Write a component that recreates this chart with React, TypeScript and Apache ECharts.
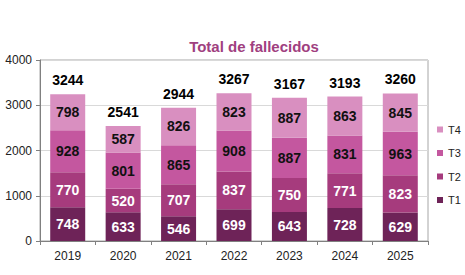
import React, { useEffect, useRef } from "react";
import * as echarts from "echarts";

const years = ["2019", "2020", "2021", "2022", "2023", "2024", "2025"];
const t1 = [748, 633, 546, 699, 643, 728, 629];
const t2 = [770, 520, 707, 837, 750, 771, 823];
const t3 = [928, 801, 865, 908, 887, 831, 963];
const t4 = [798, 587, 826, 823, 887, 863, 845];
const totals = [3244, 2541, 2944, 3267, 3167, 3193, 3260];

const colors = { T1: "#6e2358", T2: "#a63b7d", T3: "#c4579f", T4: "#d98fc0" };

export default function App() {
  const ref = useRef<HTMLDivElement>(null);
  useEffect(() => {
    if (!ref.current) return;
    const chart = echarts.init(ref.current, undefined, { renderer: "svg" });
    const font = "'Liberation Sans', Arial, sans-serif";
    const mk = (name: string, data: number[], labelColor: string) => ({
      name,
      type: "bar",
      stack: "a",
      data,
      barWidth: 35,
      itemStyle: { color: (colors as any)[name] },
      label: {
        show: true,
        position: "inside",
        color: labelColor,
        fontWeight: "bold",
        fontSize: 14,
        fontFamily: font,
      },
    });
    chart.setOption({
      animation: false,
      title: {
        text: "Total de fallecidos",
        left: 249,
        textAlign: "center",
        top: 34,
        textStyle: { color: "#a0407f", fontSize: 15, fontWeight: "bold", fontFamily: font },
      },
      grid: {
        left: 40,
        right: 37,
        top: 60,
        bottom: 34,
        show: true,
        borderColor: "#a6a6a6",
        borderWidth: 1,
      },
      legend: {
        data: ["T4", "T3", "T2", "T1"],
        orient: "vertical",
        left: 437,
        top: 124,
        padding: 0,
        itemWidth: 6,
        itemHeight: 6,
        itemGap: 12.5,
        icon: "rect",
        textStyle: { fontSize: 11, color: "#222", fontFamily: font },
      },
      xAxis: {
        type: "category",
        data: years,
        axisLine: { lineStyle: { color: "#808080" } },
        axisTick: { show: true, length: 4, lineStyle: { color: "#808080" } },
        axisLabel: { color: "#222", fontSize: 12, fontFamily: font, margin: 9 },
      },
      yAxis: {
        type: "value",
        min: 0,
        max: 4000,
        interval: 1000,
        axisLine: { show: true, lineStyle: { color: "#808080" } },
        axisTick: { show: true, length: 4, lineStyle: { color: "#808080" } },
        axisLabel: {
          color: "#222",
          fontSize: 12,
          fontFamily: font,
          margin: 8,
          formatter: (v: number) => String(v),
        },
        splitLine: { lineStyle: { color: "#d9d9d9" } },
      },
      series: [
        mk("T1", t1, "#fff"),
        mk("T2", t2, "#fff"),
        mk("T3", t3, "#111"),
        mk("T4", t4, "#111"),
        {
          name: "Total",
          type: "bar",
          stack: "a",
          data: totals.map(() => 0),
          barWidth: 35,
          itemStyle: { color: "transparent" },
          label: {
            show: true,
            position: "top",
            distance: 7,
            formatter: (p: any) => String(totals[p.dataIndex]),
            color: "#000",
            fontWeight: "bold",
            fontSize: 14,
            fontFamily: font,
          },
        },
      ],
    });
    return () => chart.dispose();
  }, []);
  return <div ref={ref} style={{ width: 465, height: 275, position: "absolute", left: 0, top: 0 }} />;
}
